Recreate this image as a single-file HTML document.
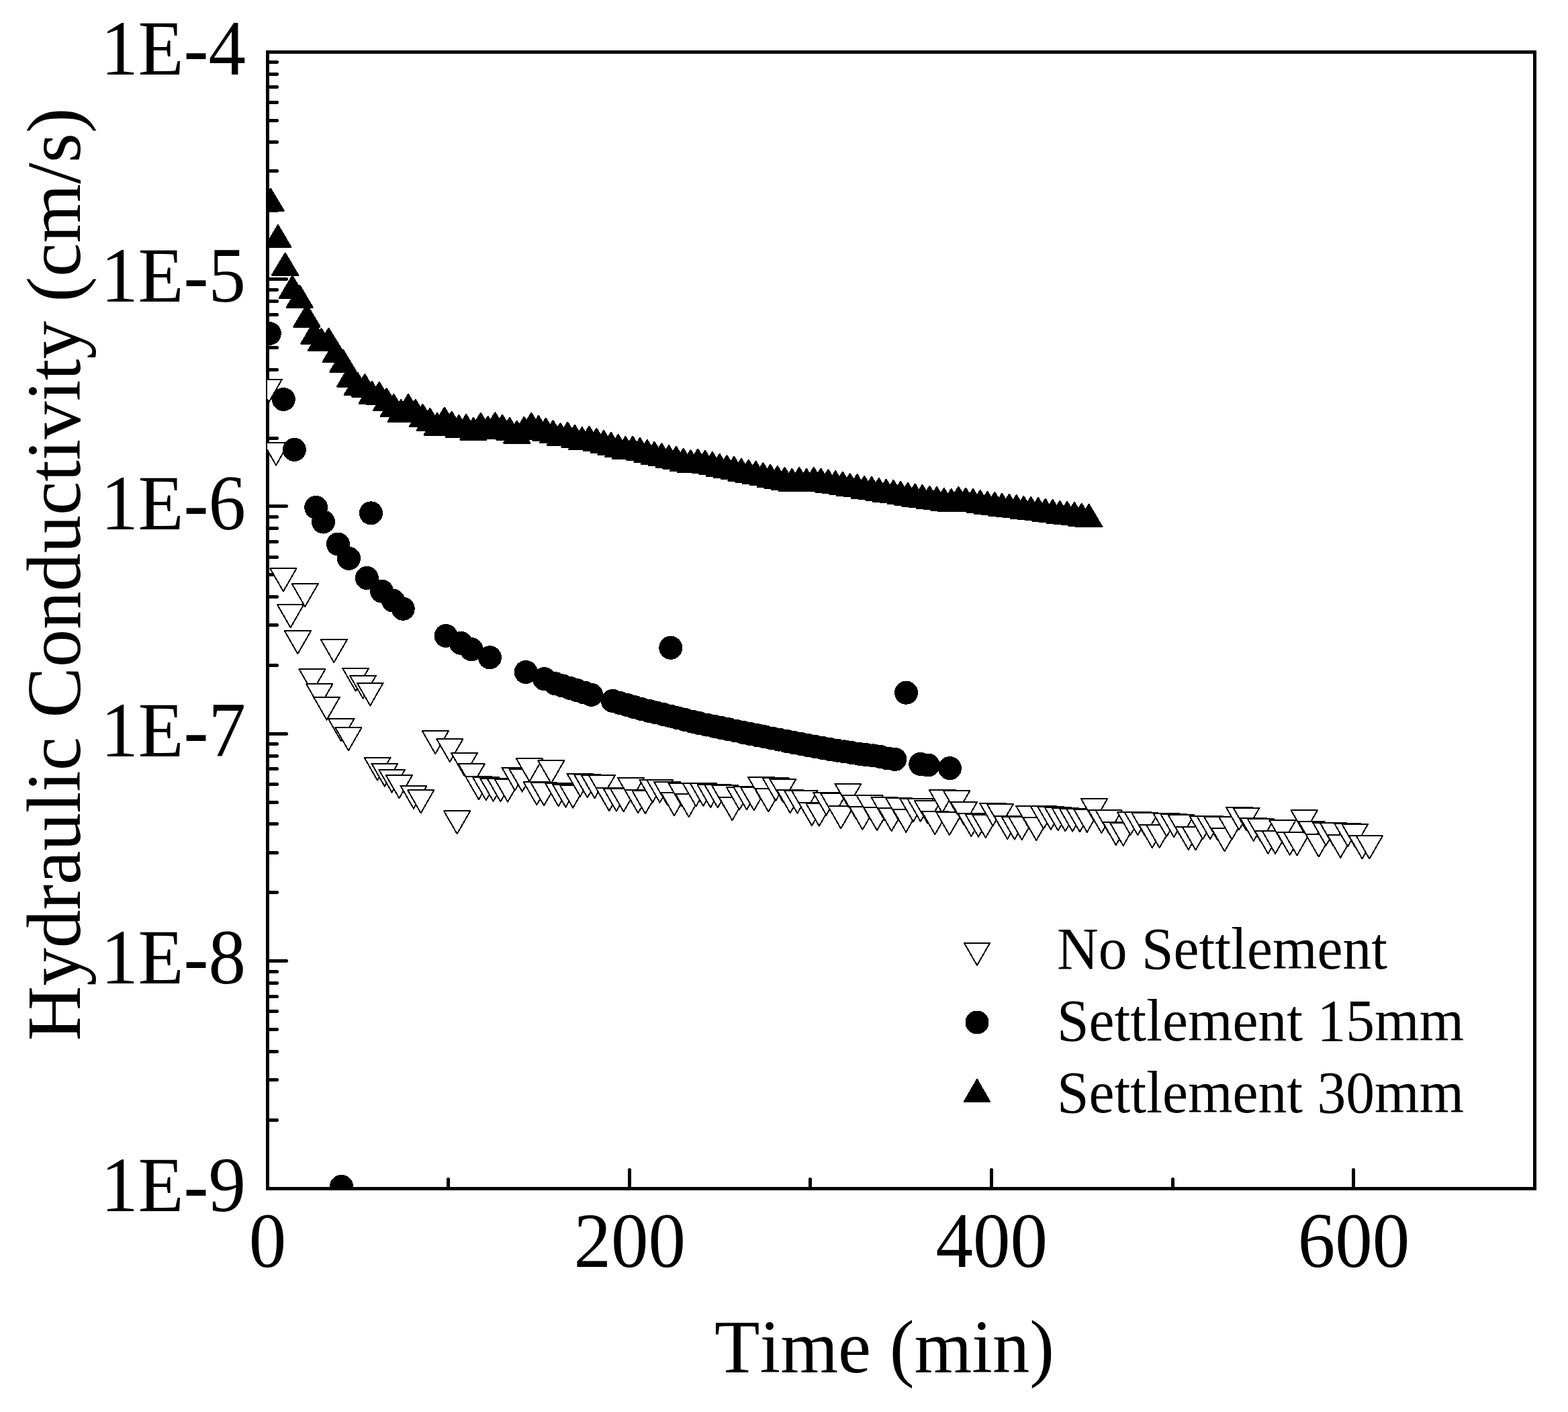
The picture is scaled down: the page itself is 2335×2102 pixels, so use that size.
<!DOCTYPE html>
<html lang="en"><head><meta charset="utf-8"><title>Hydraulic Conductivity vs Time</title>
<style>html,body{margin:0;padding:0;background:#fff}body{width:2335px;height:2102px;overflow:hidden}svg{display:block}text{font-family:"Liberation Serif",serif;fill:#000;font-kerning:none}</style>
</head><body>
<svg width="2335" height="2102" viewBox="0 0 2335 2102">
<rect x="0" y="0" width="2335" height="2102" fill="#fff"/>
<defs><clipPath id="plot"><rect x="398" y="77" width="1888" height="1693"/></clipPath></defs>
<g shape-rendering="crispEdges" stroke="#000" fill="none">
<rect x="398.5" y="77.5" width="1887" height="1692" stroke-width="5"/>
<path d="M398.5 313.5H412.5M398.5 254.5H412.5M398.5 211.5H412.5M398.5 179.5H412.5M398.5 152.5H412.5M398.5 129.5H412.5M398.5 110.5H412.5M398.5 92.5H412.5M398.5 415.5H426.5M398.5 652.5H412.5M398.5 592.5H412.5M398.5 550.5H412.5M398.5 517.5H412.5M398.5 490.5H412.5M398.5 468.5H412.5M398.5 448.5H412.5M398.5 431.5H412.5M398.5 753.5H426.5M398.5 990.5H412.5M398.5 930.5H412.5M398.5 888.5H412.5M398.5 855.5H412.5M398.5 829.5H412.5M398.5 806.5H412.5M398.5 786.5H412.5M398.5 769.5H412.5M398.5 1092.5H426.5M398.5 1328.5H412.5M398.5 1269.5H412.5M398.5 1226.5H412.5M398.5 1194.5H412.5M398.5 1167.5H412.5M398.5 1144.5H412.5M398.5 1125.5H412.5M398.5 1107.5H412.5M398.5 1430.5H426.5M398.5 1667.5H412.5M398.5 1607.5H412.5M398.5 1565.5H412.5M398.5 1532.5H412.5M398.5 1505.5H412.5M398.5 1483.5H412.5M398.5 1463.5H412.5M398.5 1446.5H412.5M667.5 1769.5V1755.5M937.5 1769.5V1741.5M1206.5 1769.5V1755.5M1476.5 1769.5V1741.5M1746.5 1769.5V1755.5M2015.5 1769.5V1741.5" stroke-width="5" stroke-linecap="round"/>
</g>
<text transform="translate(366 110.7) scale(1 1.04)" font-size="111" text-anchor="end">1E-4</text>
<text transform="translate(366 449.1) scale(1 1.04)" font-size="111" text-anchor="end">1E-5</text>
<text transform="translate(366 787.5) scale(1 1.04)" font-size="111" text-anchor="end">1E-6</text>
<text transform="translate(366 1125.9) scale(1 1.04)" font-size="111" text-anchor="end">1E-7</text>
<text transform="translate(366 1464.3) scale(1 1.04)" font-size="111" text-anchor="end">1E-8</text>
<text transform="translate(366 1802.7) scale(1 1.04)" font-size="111" text-anchor="end">1E-9</text>
<text transform="translate(398.5 1885.6) scale(1 1.04)" font-size="111" text-anchor="middle">0</text>
<text transform="translate(937.64 1885.6) scale(1 1.04)" font-size="111" text-anchor="middle">200</text>
<text transform="translate(1476.79 1885.6) scale(1 1.04)" font-size="111" text-anchor="middle">400</text>
<text transform="translate(2015.93 1885.6) scale(1 1.04)" font-size="111" text-anchor="middle">600</text>
<text transform="translate(1317 2042.8) scale(0.995 1.02)" font-size="111" text-anchor="middle">Time (min)</text>
<text transform="translate(118.5 855) rotate(-90) scale(1.0195 1.03)" font-size="111" text-anchor="middle">Hydraulic Conductivity (cm/s)</text>
<g clip-path="url(#plot)" shape-rendering="crispEdges" stroke="#000" stroke-width="2" stroke-linejoin="round">
<g fill="#fff">
<polygon points="380.8,564.8 419.9,564.8 400.3,598.8"/>
<polygon points="391.5,658.6 430.6,658.6 411.1,692.6"/>
<polygon points="402.3,846.3 441.4,846.3 421.9,880.3"/>
<polygon points="413.1,900.3 452.2,900.3 432.6,934.3"/>
<polygon points="423.9,939.3 463,939.3 443.4,973.3"/>
<polygon points="434.7,869.1 473.8,869.1 454.2,903.1"/>
<polygon points="445.4,996.1 484.5,996.1 465,1030.1"/>
<polygon points="456.2,1018.4 495.3,1018.4 475.8,1052.4"/>
<polygon points="467,1037.6 506.1,1037.6 486.6,1071.6"/>
<polygon points="477.8,952.2 516.9,952.2 497.3,986.2"/>
<polygon points="488.6,1069.5 527.7,1069.5 508.1,1103.5"/>
<polygon points="499.4,1083.3 538.5,1083.3 518.9,1117.3"/>
<polygon points="510.1,994.7 549.2,994.7 529.7,1028.7"/>
<polygon points="520.9,1005.6 560,1005.6 540.5,1039.6"/>
<polygon points="531.7,1016.5 570.8,1016.5 551.3,1050.5"/>
<polygon points="542.5,1127.6 581.6,1127.6 562,1161.6"/>
<polygon points="553.3,1136.6 592.4,1136.6 572.8,1170.6"/>
<polygon points="564.1,1145.5 603.2,1145.5 583.6,1179.5"/>
<polygon points="574.8,1154.2 613.9,1154.2 594.4,1188.2"/>
<polygon points="596.4,1169.8 635.5,1169.8 616,1203.8"/>
<polygon points="607.2,1176.4 646.3,1176.4 626.7,1210.4"/>
<polygon points="628.8,1088.2 667.9,1088.2 648.3,1122.2"/>
<polygon points="650.3,1100.2 689.4,1100.2 669.9,1134.2"/>
<polygon points="661.1,1207.4 700.2,1207.4 680.7,1241.4"/>
<polygon points="671.9,1120.9 711,1120.9 691.4,1154.9"/>
<polygon points="682.7,1137.3 721.8,1137.3 702.2,1171.3"/>
<polygon points="693.5,1156.3 732.6,1156.3 713,1190.3"/>
<polygon points="704.2,1157.3 743.3,1157.3 723.8,1191.3"/>
<polygon points="715,1158.7 754.1,1158.7 734.6,1192.7"/>
<polygon points="725.8,1159.3 764.9,1159.3 745.4,1193.3"/>
<polygon points="736.6,1159.7 775.7,1159.7 756.1,1193.7"/>
<polygon points="747.4,1142.7 786.5,1142.7 766.9,1176.7"/>
<polygon points="758.2,1144.5 797.3,1144.5 777.7,1178.5"/>
<polygon points="768.9,1129.4 808,1129.4 788.5,1163.4"/>
<polygon points="779.7,1164.3 818.8,1164.3 799.3,1198.3"/>
<polygon points="790.5,1165.2 829.6,1165.2 810.1,1199.2"/>
<polygon points="801.3,1132.2 840.4,1132.2 820.8,1166.2"/>
<polygon points="812.1,1166.2 851.2,1166.2 831.6,1200.2"/>
<polygon points="822.9,1167.6 862,1167.6 842.4,1201.6"/>
<polygon points="833.6,1168.6 872.7,1168.6 853.2,1202.6"/>
<polygon points="844.4,1151.6 883.5,1151.6 864,1185.6"/>
<polygon points="855.2,1153.4 894.3,1153.4 874.8,1187.4"/>
<polygon points="866,1154.4 905.1,1154.4 885.5,1188.4"/>
<polygon points="876.8,1154.2 915.9,1154.2 896.3,1188.2"/>
<polygon points="887.6,1173.2 926.7,1173.2 907.1,1207.2"/>
<polygon points="898.3,1173.6 937.4,1173.6 917.9,1207.6"/>
<polygon points="909.1,1174.3 948.2,1174.3 928.7,1208.3"/>
<polygon points="919.9,1157.8 959,1157.8 939.5,1191.8"/>
<polygon points="930.7,1176.4 969.8,1176.4 950.2,1210.4"/>
<polygon points="941.5,1177.3 980.6,1177.3 961,1211.3"/>
<polygon points="952.2,1160.7 991.3,1160.7 971.8,1194.7"/>
<polygon points="963,1160.7 1002.1,1160.7 982.6,1194.7"/>
<polygon points="973.8,1163.7 1012.9,1163.7 993.4,1197.7"/>
<polygon points="984.6,1180.3 1023.7,1180.3 1004.1,1214.3"/>
<polygon points="995.4,1165.7 1034.5,1165.7 1014.9,1199.7"/>
<polygon points="1006.2,1182.3 1045.3,1182.3 1025.7,1216.3"/>
<polygon points="1016.9,1166.3 1056,1166.3 1036.5,1200.3"/>
<polygon points="1027.7,1165.9 1066.8,1165.9 1047.3,1199.9"/>
<polygon points="1038.5,1168 1077.6,1168 1058.1,1202"/>
<polygon points="1049.3,1168.4 1088.4,1168.4 1068.8,1202.4"/>
<polygon points="1060.1,1169.1 1099.2,1169.1 1079.6,1203.1"/>
<polygon points="1070.9,1187.2 1110,1187.2 1090.4,1221.2"/>
<polygon points="1081.6,1171.5 1120.7,1171.5 1101.2,1205.5"/>
<polygon points="1092.4,1171.4 1131.5,1171.4 1112,1205.4"/>
<polygon points="1103.2,1172.4 1142.3,1172.4 1122.8,1206.4"/>
<polygon points="1114,1156.8 1153.1,1156.8 1133.5,1190.8"/>
<polygon points="1124.8,1174.4 1163.9,1174.4 1144.3,1208.4"/>
<polygon points="1135.6,1158.1 1174.7,1158.1 1155.1,1192.1"/>
<polygon points="1146.3,1159.7 1185.4,1159.7 1165.9,1193.7"/>
<polygon points="1157.1,1176.3 1196.2,1176.3 1176.7,1210.3"/>
<polygon points="1167.9,1176.7 1207,1176.7 1187.5,1210.7"/>
<polygon points="1178.7,1176.5 1217.8,1176.5 1198.2,1210.5"/>
<polygon points="1189.5,1195.1 1228.6,1195.1 1209,1229.1"/>
<polygon points="1200.3,1195.7 1239.4,1195.7 1219.8,1229.7"/>
<polygon points="1211,1179.5 1250.1,1179.5 1230.6,1213.5"/>
<polygon points="1221.8,1180.5 1260.9,1180.5 1241.4,1214.5"/>
<polygon points="1232.6,1199.5 1271.7,1199.5 1252.2,1233.5"/>
<polygon points="1243.4,1166.6 1282.5,1166.6 1262.9,1200.6"/>
<polygon points="1254.2,1183.5 1293.3,1183.5 1273.7,1217.5"/>
<polygon points="1265,1201 1304.1,1201 1284.5,1235"/>
<polygon points="1275.7,1184.4 1314.8,1184.4 1295.3,1218.4"/>
<polygon points="1286.5,1202.2 1325.6,1202.2 1306.1,1236.2"/>
<polygon points="1297.3,1186.6 1336.4,1186.6 1316.9,1220.6"/>
<polygon points="1308.1,1203.3 1347.2,1203.3 1327.6,1237.3"/>
<polygon points="1318.9,1187.6 1358,1187.6 1338.4,1221.6"/>
<polygon points="1329.7,1204.9 1368.8,1204.9 1349.2,1238.9"/>
<polygon points="1340.4,1189.2 1379.5,1189.2 1360,1223.2"/>
<polygon points="1351.2,1188.8 1390.3,1188.8 1370.8,1222.8"/>
<polygon points="1362,1192.2 1401.1,1192.2 1381.6,1226.2"/>
<polygon points="1372.8,1208.2 1411.9,1208.2 1392.3,1242.2"/>
<polygon points="1383.6,1175.8 1422.7,1175.8 1403.1,1209.8"/>
<polygon points="1394.4,1209.2 1433.5,1209.2 1413.9,1243.2"/>
<polygon points="1405.1,1177.3 1444.2,1177.3 1424.7,1211.3"/>
<polygon points="1415.9,1194 1455,1194 1435.5,1228"/>
<polygon points="1426.7,1211.2 1465.8,1211.2 1446.3,1245.2"/>
<polygon points="1437.5,1211.8 1476.6,1211.8 1457,1245.8"/>
<polygon points="1448.3,1213.2 1487.4,1213.2 1467.8,1247.2"/>
<polygon points="1459,1195.5 1498.1,1195.5 1478.6,1229.5"/>
<polygon points="1469.8,1196.9 1508.9,1196.9 1489.4,1230.9"/>
<polygon points="1480.6,1215.1 1519.7,1215.1 1500.2,1249.1"/>
<polygon points="1491.4,1215.7 1530.5,1215.7 1510.9,1249.7"/>
<polygon points="1502.2,1216.1 1541.3,1216.1 1521.7,1250.1"/>
<polygon points="1513,1199.5 1552.1,1199.5 1532.5,1233.5"/>
<polygon points="1523.7,1217.1 1562.8,1217.1 1543.3,1251.1"/>
<polygon points="1534.5,1199.9 1573.6,1199.9 1554.1,1233.9"/>
<polygon points="1545.3,1200.9 1584.4,1200.9 1564.9,1234.9"/>
<polygon points="1556.1,1202.3 1595.2,1202.3 1575.6,1236.3"/>
<polygon points="1566.9,1203.3 1606,1203.3 1586.4,1237.3"/>
<polygon points="1577.7,1203.7 1616.8,1203.7 1597.2,1237.7"/>
<polygon points="1588.4,1204.3 1627.5,1204.3 1608,1238.3"/>
<polygon points="1599.2,1204.9 1638.3,1204.9 1618.8,1238.9"/>
<polygon points="1610,1189.2 1649.1,1189.2 1629.6,1223.2"/>
<polygon points="1620.8,1206.2 1659.9,1206.2 1640.3,1240.2"/>
<polygon points="1631.6,1206.4 1670.7,1206.4 1651.1,1240.4"/>
<polygon points="1642.4,1224 1681.5,1224 1661.9,1258"/>
<polygon points="1653.1,1225 1692.2,1225 1672.7,1259"/>
<polygon points="1663.9,1209 1703,1209 1683.5,1243"/>
<polygon points="1674.7,1209.2 1713.8,1209.2 1694.3,1243.2"/>
<polygon points="1685.5,1210.4 1724.6,1210.4 1705,1244.4"/>
<polygon points="1696.3,1228 1735.4,1228 1715.8,1262"/>
<polygon points="1707.1,1228 1746.2,1228 1726.6,1262"/>
<polygon points="1717.8,1211.4 1756.9,1211.4 1737.4,1245.4"/>
<polygon points="1728.6,1212.2 1767.7,1212.2 1748.2,1246.2"/>
<polygon points="1739.4,1212.8 1778.5,1212.8 1759,1246.8"/>
<polygon points="1750.2,1231 1789.3,1231 1769.7,1265"/>
<polygon points="1761,1231.4 1800.1,1231.4 1780.5,1265.4"/>
<polygon points="1771.8,1215.3 1810.9,1215.3 1791.3,1249.3"/>
<polygon points="1782.5,1215.1 1821.6,1215.1 1802.1,1249.1"/>
<polygon points="1793.3,1216.3 1832.4,1216.3 1812.9,1250.3"/>
<polygon points="1804.1,1233.3 1843.2,1233.3 1823.7,1267.3"/>
<polygon points="1814.9,1215.7 1854,1215.7 1834.4,1249.7"/>
<polygon points="1825.7,1201.5 1864.8,1201.5 1845.2,1235.5"/>
<polygon points="1836.5,1202.5 1875.6,1202.5 1856,1236.5"/>
<polygon points="1847.2,1218.1 1886.3,1218.1 1866.8,1252.1"/>
<polygon points="1858,1219.3 1897.1,1219.3 1877.6,1253.3"/>
<polygon points="1868.8,1236.9 1907.9,1236.9 1888.4,1270.9"/>
<polygon points="1879.6,1236.9 1918.7,1236.9 1899.1,1270.9"/>
<polygon points="1890.4,1221.3 1929.5,1221.3 1909.9,1255.3"/>
<polygon points="1901.2,1238.9 1940.3,1238.9 1920.7,1272.9"/>
<polygon points="1911.9,1239.3 1951,1239.3 1931.5,1273.3"/>
<polygon points="1922.7,1206.4 1961.8,1206.4 1942.3,1240.4"/>
<polygon points="1933.5,1222.6 1972.6,1222.6 1953.1,1256.6"/>
<polygon points="1944.3,1241.5 1983.4,1241.5 1963.8,1275.5"/>
<polygon points="1955.1,1224.6 1994.2,1224.6 1974.6,1258.6"/>
<polygon points="1965.9,1225.2 2005,1225.2 1985.4,1259.2"/>
<polygon points="1976.6,1242.8 2015.7,1242.8 1996.2,1276.8"/>
<polygon points="1987.4,1226.2 2026.5,1226.2 2007,1260.2"/>
<polygon points="1998.2,1226.6 2037.3,1226.6 2017.7,1260.6"/>
<polygon points="2009,1244.4 2048.1,1244.4 2028.5,1278.4"/>
<polygon points="2019.8,1244.4 2058.9,1244.4 2039.3,1278.4"/>
</g>
<g fill="#000">
<circle cx="401.3" cy="496.5" r="16.5"/>
<circle cx="422.3" cy="594.5" r="16.5"/>
<circle cx="438.4" cy="669.4" r="16.5"/>
<circle cx="470.7" cy="755.4" r="16.5"/>
<circle cx="481.5" cy="777" r="16.5"/>
<circle cx="503.4" cy="810" r="16.5"/>
<circle cx="519.5" cy="831.4" r="16.5"/>
<circle cx="546.4" cy="860.5" r="16.5"/>
<circle cx="552.4" cy="763.9" r="16.5"/>
<circle cx="568.6" cy="880.2" r="16.5"/>
<circle cx="585.4" cy="894.1" r="16.5"/>
<circle cx="600.2" cy="906.3" r="16.5"/>
<circle cx="664.1" cy="946.5" r="16.5"/>
<circle cx="686.3" cy="957.4" r="16.5"/>
<circle cx="702.1" cy="966.7" r="16.5"/>
<circle cx="729.4" cy="978.8" r="16.5"/>
<circle cx="783.1" cy="1000.5" r="16.5"/>
<circle cx="810.5" cy="1010.6" r="16.5"/>
<circle cx="826.7" cy="1017.6" r="16.5"/>
<circle cx="837.5" cy="1020.9" r="16.5"/>
<circle cx="848.3" cy="1024.3" r="16.5"/>
<circle cx="859" cy="1027.6" r="16.5"/>
<circle cx="869.8" cy="1031" r="16.5"/>
<circle cx="880.6" cy="1034.3" r="16.5"/>
<circle cx="912.3" cy="1043.4" r="16.5"/>
<circle cx="923.1" cy="1046.5" r="16.5"/>
<circle cx="933.9" cy="1049.5" r="16.5"/>
<circle cx="944.6" cy="1052.6" r="16.5"/>
<circle cx="955.4" cy="1055.6" r="16.5"/>
<circle cx="966.2" cy="1058.3" r="16.5"/>
<circle cx="977" cy="1060.9" r="16.5"/>
<circle cx="987.8" cy="1063.5" r="16.5"/>
<circle cx="998.6" cy="1066.1" r="16.5"/>
<circle cx="1009.3" cy="1068.8" r="16.5"/>
<circle cx="1020.1" cy="1071.5" r="16.5"/>
<circle cx="1030.9" cy="1074.2" r="16.5"/>
<circle cx="1041.7" cy="1076.7" r="16.5"/>
<circle cx="1052.5" cy="1079" r="16.5"/>
<circle cx="1063.3" cy="1081.2" r="16.5"/>
<circle cx="1074" cy="1083.5" r="16.5"/>
<circle cx="1084.8" cy="1085.7" r="16.5"/>
<circle cx="1095.6" cy="1088" r="16.5"/>
<circle cx="1106.4" cy="1090.3" r="16.5"/>
<circle cx="1117.2" cy="1092.5" r="16.5"/>
<circle cx="1128" cy="1094.7" r="16.5"/>
<circle cx="1138.7" cy="1096.8" r="16.5"/>
<circle cx="1149.5" cy="1099" r="16.5"/>
<circle cx="1160.3" cy="1101.1" r="16.5"/>
<circle cx="1171.1" cy="1103.3" r="16.5"/>
<circle cx="1181.9" cy="1105.4" r="16.5"/>
<circle cx="1192.7" cy="1107.5" r="16.5"/>
<circle cx="1203.4" cy="1109.6" r="16.5"/>
<circle cx="1214.2" cy="1111.5" r="16.5"/>
<circle cx="1225" cy="1113.4" r="16.5"/>
<circle cx="1235.8" cy="1115.4" r="16.5"/>
<circle cx="1246.6" cy="1117.2" r="16.5"/>
<circle cx="1257.4" cy="1118.9" r="16.5"/>
<circle cx="1268.1" cy="1120.6" r="16.5"/>
<circle cx="1278.9" cy="1122.3" r="16.5"/>
<circle cx="1289.7" cy="1123.6" r="16.5"/>
<circle cx="1300.5" cy="1124.9" r="16.5"/>
<circle cx="1311.3" cy="1126.6" r="16.5"/>
<circle cx="1322.1" cy="1129" r="16.5"/>
<circle cx="1332.8" cy="1130.4" r="16.5"/>
<circle cx="1370.8" cy="1137.4" r="16.5"/>
<circle cx="1382.1" cy="1139" r="16.5"/>
<circle cx="1414.4" cy="1143.6" r="16.5"/>
<circle cx="998.8" cy="964.3" r="16.5"/>
<circle cx="1349.5" cy="1031.2" r="16.5"/>
<circle cx="508.5" cy="1766.4" r="16.5"/>
</g>
<g fill="#000" stroke-width="3">
<polygon points="384,313.7 422.1,313.7 403.1,281.7"/>
<polygon points="394.8,367.9 432.9,367.9 413.9,335.9"/>
<polygon points="405.6,409.6 443.7,409.6 424.7,377.6"/>
<polygon points="416.4,443.4 454.5,443.4 435.4,411.4"/>
<polygon points="427.2,457.5 465.3,457.5 446.2,425.5"/>
<polygon points="438,486.2 476.1,486.2 457,454.2"/>
<polygon points="448.7,511.5 486.8,511.5 467.8,479.5"/>
<polygon points="459.5,521.8 497.6,521.8 478.6,489.8"/>
<polygon points="470.3,521.4 508.4,521.4 489.4,489.4"/>
<polygon points="481.1,538.6 519.2,538.6 500.1,506.6"/>
<polygon points="491.9,553.4 530,553.4 510.9,521.4"/>
<polygon points="502.7,575.2 540.8,575.2 521.7,543.2"/>
<polygon points="513.4,587.5 551.5,587.5 532.5,555.5"/>
<polygon points="524.2,590 562.3,590 543.3,558"/>
<polygon points="535,600.9 573.1,600.9 554,568.9"/>
<polygon points="545.8,601.7 583.9,601.7 564.8,569.7"/>
<polygon points="556.6,610.8 594.7,610.8 575.6,578.8"/>
<polygon points="567.3,619.7 605.4,619.7 586.4,587.7"/>
<polygon points="578.1,627.7 616.2,627.7 597.2,595.7"/>
<polygon points="588.9,619.7 627,619.7 608,587.7"/>
<polygon points="599.7,627.6 637.8,627.6 618.7,595.6"/>
<polygon points="610.5,634.6 648.6,634.6 629.5,602.6"/>
<polygon points="621.3,640.5 659.4,640.5 640.3,608.5"/>
<polygon points="632,647.6 670.1,647.6 651.1,615.6"/>
<polygon points="642.8,639.3 680.9,639.3 661.9,607.3"/>
<polygon points="653.6,645.6 691.7,645.6 672.7,613.6"/>
<polygon points="664.4,650.6 702.5,650.6 683.4,618.6"/>
<polygon points="675.2,649.6 713.3,649.6 694.2,617.6"/>
<polygon points="685.9,654.7 724,654.7 705,622.7"/>
<polygon points="696.7,647.8 734.8,647.8 715.8,615.8"/>
<polygon points="707.5,652.6 745.6,652.6 726.6,620.6"/>
<polygon points="718.3,646.8 756.4,646.8 737.3,614.8"/>
<polygon points="729.1,650.6 767.2,650.6 748.1,618.6"/>
<polygon points="739.9,654.5 778,654.5 758.9,622.5"/>
<polygon points="750.6,659.5 788.7,659.5 769.7,627.5"/>
<polygon points="761.4,653.6 799.5,653.6 780.5,621.6"/>
<polygon points="772.2,647.6 810.3,647.6 791.3,615.6"/>
<polygon points="783,651.8 821.1,651.8 802,619.8"/>
<polygon points="793.8,655.5 831.9,655.5 812.8,623.5"/>
<polygon points="804.5,658.9 842.6,658.9 823.6,626.9"/>
<polygon points="815.3,662.9 853.4,662.9 834.4,630.9"/>
<polygon points="826.1,661.5 864.2,661.5 845.2,629.5"/>
<polygon points="836.9,665.6 875,665.6 855.9,633.6"/>
<polygon points="847.7,668.8 885.8,668.8 866.7,636.8"/>
<polygon points="858.5,667.4 896.6,667.4 877.5,635.4"/>
<polygon points="869.2,670.6 907.3,670.6 888.3,638.6"/>
<polygon points="880,673.7 918.1,673.7 899.1,641.7"/>
<polygon points="890.8,676.5 928.9,676.5 909.9,644.5"/>
<polygon points="901.6,679.7 939.7,679.7 920.6,647.7"/>
<polygon points="912.4,682.7 950.5,682.7 931.4,650.7"/>
<polygon points="923.2,682.5 961.2,682.5 942.2,650.5"/>
<polygon points="933.9,684.7 972,684.7 953,652.7"/>
<polygon points="944.7,687.7 982.8,687.7 963.8,655.7"/>
<polygon points="955.5,690.6 993.6,690.6 974.5,658.6"/>
<polygon points="966.3,692.8 1004.4,692.8 985.3,660.8"/>
<polygon points="977.1,695.8 1015.2,695.8 996.1,663.8"/>
<polygon points="987.8,697.6 1025.9,697.6 1006.9,665.6"/>
<polygon points="998.6,700.7 1036.7,700.7 1017.7,668.7"/>
<polygon points="1009.4,702.7 1047.5,702.7 1028.5,670.7"/>
<polygon points="1020.2,701.5 1058.3,701.5 1039.2,669.5"/>
<polygon points="1031,703.5 1069.1,703.5 1050,671.5"/>
<polygon points="1041.8,705.7 1079.9,705.7 1060.8,673.7"/>
<polygon points="1052.5,708.6 1090.6,708.6 1071.6,676.6"/>
<polygon points="1063.3,710.8 1101.4,710.8 1082.4,678.8"/>
<polygon points="1074.1,712.6 1112.2,712.6 1093.1,680.6"/>
<polygon points="1084.9,715.6 1123,715.6 1103.9,683.6"/>
<polygon points="1095.7,717.7 1133.8,717.7 1114.7,685.7"/>
<polygon points="1106.4,719.5 1144.5,719.5 1125.5,687.5"/>
<polygon points="1117.2,721.9 1155.3,721.9 1136.3,689.9"/>
<polygon points="1128,724.5 1166.1,724.5 1147.1,692.5"/>
<polygon points="1138.8,726.8 1176.9,726.8 1157.8,694.8"/>
<polygon points="1149.6,728.8 1187.7,728.8 1168.6,696.8"/>
<polygon points="1160.4,730.6 1198.5,730.6 1179.4,698.6"/>
<polygon points="1171.1,728.6 1209.2,728.6 1190.2,696.6"/>
<polygon points="1181.9,730.6 1220,730.6 1201,698.6"/>
<polygon points="1192.7,728.8 1230.8,728.8 1211.8,696.8"/>
<polygon points="1203.5,730.4 1241.6,730.4 1222.5,698.4"/>
<polygon points="1214.3,732 1252.4,732 1233.3,700"/>
<polygon points="1225,733.8 1263.1,733.8 1244.1,701.8"/>
<polygon points="1235.8,735.5 1273.9,735.5 1254.9,703.5"/>
<polygon points="1246.6,737.9 1284.7,737.9 1265.7,705.9"/>
<polygon points="1257.4,738.9 1295.5,738.9 1276.4,706.9"/>
<polygon points="1268.2,741.6 1306.3,741.6 1287.2,709.6"/>
<polygon points="1279,742.7 1317.1,742.7 1298,710.7"/>
<polygon points="1289.7,744.7 1327.8,744.7 1308.8,712.7"/>
<polygon points="1300.5,746.5 1338.6,746.5 1319.6,714.5"/>
<polygon points="1311.3,747.6 1349.4,747.6 1330.4,715.6"/>
<polygon points="1322.1,749.6 1360.2,749.6 1341.1,717.6"/>
<polygon points="1332.9,751.6 1371,751.6 1351.9,719.6"/>
<polygon points="1343.6,753.4 1381.7,753.4 1362.7,721.4"/>
<polygon points="1354.4,754.6 1392.5,754.6 1373.5,722.6"/>
<polygon points="1365.2,756.5 1403.3,756.5 1384.3,724.5"/>
<polygon points="1376,757.7 1414.1,757.7 1395,725.7"/>
<polygon points="1386.8,759.7 1424.9,759.7 1405.8,727.7"/>
<polygon points="1397.6,760.7 1435.7,760.7 1416.6,728.7"/>
<polygon points="1408.3,757.5 1446.4,757.5 1427.4,725.5"/>
<polygon points="1419.1,759.3 1457.2,759.3 1438.2,727.3"/>
<polygon points="1429.9,760.7 1468,760.7 1449,728.7"/>
<polygon points="1440.7,762.7 1478.8,762.7 1459.7,730.7"/>
<polygon points="1451.5,764.5 1489.6,764.5 1470.5,732.5"/>
<polygon points="1462.2,765.6 1500.3,765.6 1481.3,733.6"/>
<polygon points="1473,767.6 1511.1,767.6 1492.1,735.6"/>
<polygon points="1483.8,768.6 1521.9,768.6 1502.9,736.6"/>
<polygon points="1494.6,769.6 1532.7,769.6 1513.6,737.6"/>
<polygon points="1505.4,771.6 1543.5,771.6 1524.4,739.6"/>
<polygon points="1516.2,772.6 1554.3,772.6 1535.2,740.6"/>
<polygon points="1526.9,773.8 1565,773.8 1546,741.8"/>
<polygon points="1537.7,775.5 1575.8,775.5 1556.8,743.5"/>
<polygon points="1548.5,776.7 1586.6,776.7 1567.6,744.7"/>
<polygon points="1559.3,778.7 1597.4,778.7 1578.3,746.7"/>
<polygon points="1570.1,779.7 1608.2,779.7 1589.1,747.7"/>
<polygon points="1580.9,780.7 1619,780.7 1599.9,748.7"/>
<polygon points="1591.6,782.5 1629.7,782.5 1610.7,750.5"/>
<polygon points="1602.4,783.5 1640.5,783.5 1621.5,751.5"/>
</g>
</g>
<g shape-rendering="crispEdges" stroke="#000" stroke-width="2" stroke-linejoin="round">
<polygon fill="#fff" points="1435.9,1404 1474.1,1404 1455,1437"/>
<circle fill="#000" cx="1455" cy="1522" r="16.5"/>
<polygon fill="#000" points="1435.9,1639.8 1474.1,1639.8 1455,1606.8"/>
</g>
<text transform="translate(1574 1442.1) scale(0.9896 1.02)" font-size="86.5">No Settlement</text>
<text transform="translate(1574 1549.3) scale(0.9896 1.02)" font-size="86.5">Settlement 15mm</text>
<text transform="translate(1574 1655.6) scale(0.9896 1.02)" font-size="86.5">Settlement 30mm</text>
</svg></body></html>
